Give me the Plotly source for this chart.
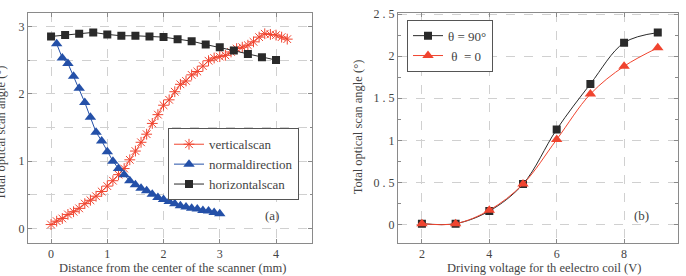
import plotly.graph_objects as go

# ---- Panel (a) data ----
h_x = [0, 0.25, 0.5, 0.75, 1, 1.25, 1.5, 1.75, 2, 2.25, 2.5, 2.75, 3, 3.25, 3.5, 3.75, 4]
h_y = [2.85, 2.87, 2.89, 2.91, 2.88, 2.86, 2.86, 2.85, 2.84, 2.81, 2.78, 2.73, 2.69, 2.64, 2.59, 2.54, 2.50]

n_x = [0.1, 0.2, 0.3, 0.4, 0.5, 0.6, 0.7, 0.8, 0.9, 1.0, 1.1, 1.2, 1.3, 1.4, 1.5,
       1.6, 1.7, 1.8, 1.9, 2.0, 2.1, 2.2, 2.3, 2.4, 2.5, 2.6, 2.7, 2.8, 2.9, 3.0]
n_y = [2.74, 2.53, 2.45, 2.26, 2.08, 1.87, 1.65, 1.43, 1.30, 1.14, 1.00, 0.89, 0.80, 0.71, 0.65,
       0.60, 0.56, 0.51, 0.46, 0.43, 0.40, 0.37, 0.34, 0.32, 0.30, 0.29, 0.27, 0.26, 0.24, 0.22]

v_x = [0.0, 0.1, 0.2, 0.3, 0.4, 0.5, 0.6, 0.7, 0.8, 0.9, 1.0, 1.1, 1.2, 1.3, 1.4, 1.5,
       1.6, 1.7, 1.8, 1.9, 2.0, 2.1, 2.2, 2.3, 2.4, 2.5, 2.6, 2.7, 2.8, 2.9, 3.0, 3.1,
       3.2, 3.3, 3.4, 3.5, 3.6, 3.7, 3.8, 3.9, 4.0, 4.1, 4.2]
v_y = [0.06, 0.11, 0.15, 0.21, 0.25, 0.30, 0.37, 0.42, 0.48, 0.55, 0.63, 0.71, 0.80, 0.89, 1.02, 1.15,
       1.28, 1.40, 1.56, 1.69, 1.83, 1.91, 2.03, 2.14, 2.19, 2.28, 2.33, 2.41, 2.49, 2.53, 2.55, 2.57,
       2.62, 2.67, 2.69, 2.72, 2.77, 2.84, 2.89, 2.88, 2.87, 2.84, 2.81]

# ---- Panel (b) data ----
volt = [2, 3, 4, 5, 6, 7, 8, 9]
theta90 = [0.01, 0.01, 0.16, 0.48, 1.13, 1.67, 2.16, 2.28]
theta0 = [0.01, 0.01, 0.17, 0.48, 1.01, 1.55, 1.88, 2.10]

ticks_a_x = [0, 1, 2, 3, 4]
ticks_a_y = [0, 1, 2, 3]
ticks_b_x = [2, 4, 6, 8]
ticks_b_y = [0, 0.5, 1, 1.5, 2, 2.5]
ticks_b_y_text = ["0", "0 . 5", "1", "1 . 5", "2", "2 . 5"]

FONT = "Liberation Serif, DejaVu Serif, serif"
RED = "#f0442f"
BLUE = "#2450a8"
BLACK = "#2a2a2a"
GRID = "#d0d0d0"
AXIS = "#8a8a8a"
TXT = "#444444"

fig = go.Figure()

fig.add_trace(go.Scatter(x=v_x, y=v_y, name="verticalscan", mode="lines+markers",
                         line=dict(color=RED, width=1),
                         marker=dict(symbol="asterisk-open", size=9, line=dict(color=RED, width=1)),
                         xaxis="x", yaxis="y", legend="legend"))
fig.add_trace(go.Scatter(x=n_x, y=n_y, name="normaldirection", mode="lines+markers",
                         line=dict(color=BLUE, width=1),
                         marker=dict(symbol="triangle-up", size=10, color=BLUE),
                         xaxis="x", yaxis="y", legend="legend"))
fig.add_trace(go.Scatter(x=h_x, y=h_y, name="horizontalscan", mode="lines+markers",
                         line=dict(color=BLACK, width=1),
                         marker=dict(symbol="square", size=8, color=BLACK),
                         xaxis="x", yaxis="y", legend="legend"))

fig.add_trace(go.Scatter(x=volt, y=theta90, name="θ = 90°", mode="lines+markers",
                         line=dict(color=BLACK, width=1, shape="spline"),
                         marker=dict(symbol="square", size=8, color=BLACK),
                         xaxis="x2", yaxis="y2", legend="legend2"))
fig.add_trace(go.Scatter(x=volt, y=theta0, name=" θ  = 0", mode="lines+markers",
                         line=dict(color=RED, width=1, shape="spline"),
                         marker=dict(symbol="triangle-up", size=10, color=RED),
                         xaxis="x2", yaxis="y2", legend="legend2"))

W, H = 686, 276
def px(x):
    return x / W
def py(y):
    return 1 - y / H

axis_common = dict(showline=True, linecolor=AXIS, linewidth=1, mirror="ticks",
                   ticks="inside", ticklen=4, tickcolor=AXIS,
                   showgrid=True, gridcolor=GRID, griddash="dash", gridwidth=1,
                   zeroline=False, tickfont=dict(family=FONT, size=12, color=TXT))

def note(text, x, y, size=12.5, angle=0):
    return dict(text=text, x=px(x), y=py(y), xref="paper", yref="paper",
                xanchor="center", yanchor="middle", textangle=angle,
                showarrow=False, font=dict(family=FONT, size=size, color=TXT))

fig.update_layout(
    width=W, height=H,
    margin=dict(l=0, r=0, t=0, b=0),
    paper_bgcolor="white", plot_bgcolor="white",
    font=dict(family=FONT, size=12, color=TXT),
    xaxis=dict(domain=[px(28), px(312)], range=[-0.41, 4.64], anchor="y",
               tickvals=ticks_a_x, **axis_common),
    yaxis=dict(domain=[py(242), py(7)], range=[-0.21, 3.2], anchor="x",
               tickvals=ticks_a_y, minor=dict(tickvals=[0.5, 1.5, 2.5], showgrid=True,
                                               gridcolor=GRID, griddash="dash", ticks="inside",
                                               ticklen=2, tickcolor=AXIS),
               **axis_common),
    xaxis2=dict(domain=[px(398), px(678)], range=[1.29, 9.6], anchor="y2",
                tickvals=ticks_b_x, **axis_common),
    yaxis2=dict(domain=[py(242), py(7)], range=[-0.217, 2.515], anchor="x2",
                tickvals=ticks_b_y, ticktext=ticks_b_y_text,
                minor=dict(dtick=0.25, tick0=0, showgrid=False, ticks="inside",
                           ticklen=3, tickcolor=AXIS),
                **axis_common),
    legend=dict(x=px(168), y=py(125), xanchor="left", yanchor="top",
                bgcolor="white", bordercolor="#555555", borderwidth=1,
                font=dict(family=FONT, size=13, color=TXT),
                itemwidth=30, tracegroupgap=0),
    legend2=dict(x=px(407), y=py(14), xanchor="left", yanchor="top",
                 bgcolor="white", bordercolor="#555555", borderwidth=1,
                 font=dict(family=FONT, size=13, color=TXT),
                 itemwidth=30, tracegroupgap=0),
    annotations=[
        note("(a)", 272, 214, 13),
        note("(b)", 641, 214, 13),
        note("Distance from the center of the scanner (mm)", 172, 268),
        note("Driving voltage for th eelectro coil (V)", 544, 268),
        note("Total optical scan angle (°)", 358, 124, angle=-90),
        note("Total optical scan angle (°)", 1, 130, angle=-90),
    ],
)

fig.write_html("out.html")
